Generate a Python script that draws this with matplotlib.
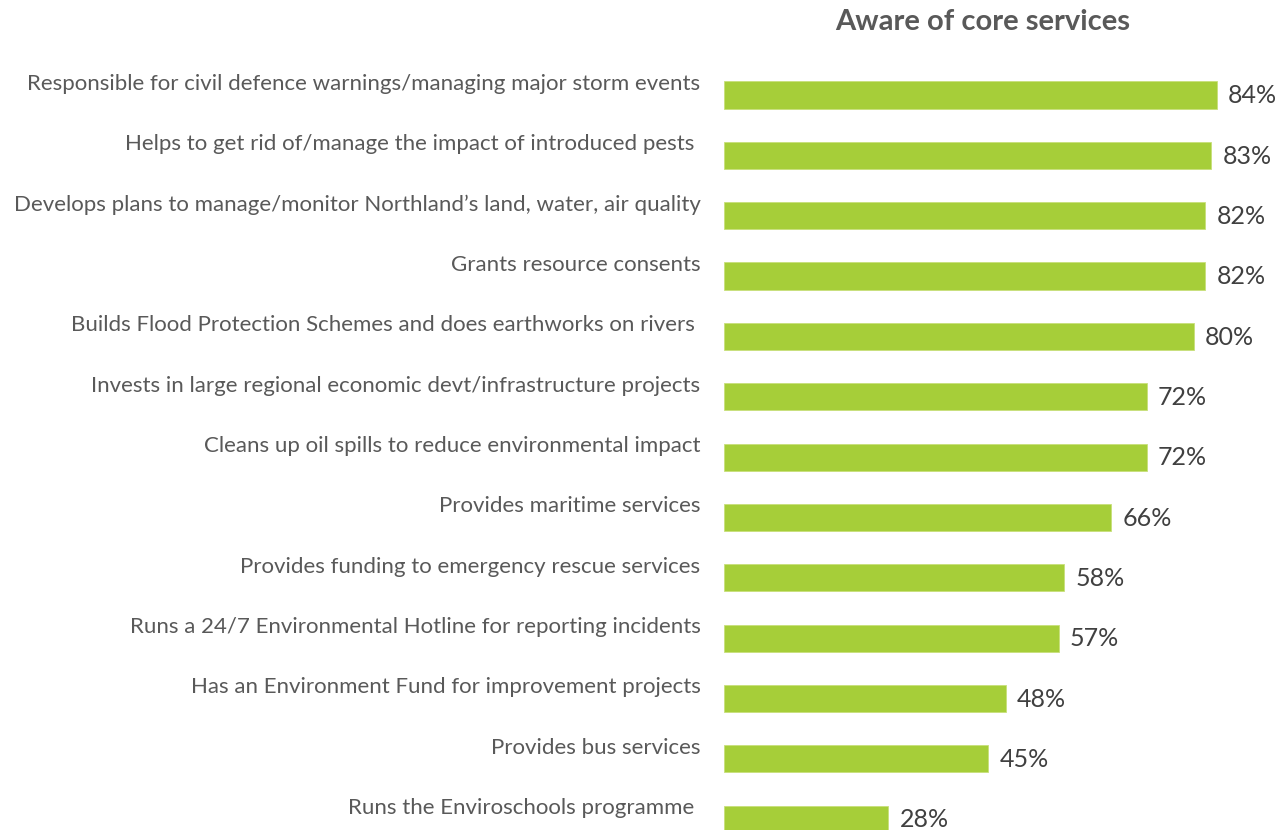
import matplotlib.pyplot as plt
import matplotlib.transforms as mtransforms
import numpy as np

# --- data ---
services = [
    "Responsible for civil defence warnings/managing major storm events",
    "Helps to get rid of/manage the impact of introduced pests ",
    "Develops plans to manage/monitor Northland\u2019s land, water, air quality",
    "Grants resource consents",
    "Builds Flood Protection Schemes and does earthworks on rivers ",
    "Invests in large regional economic devt/infrastructure projects",
    "Cleans up oil spills to reduce environmental impact",
    "Provides maritime services",
    "Provides funding to emergency rescue services",
    "Runs a 24/7 Environmental Hotline for reporting incidents",
    "Has an Environment Fund for improvement projects",
    "Provides bus services",
    "Runs the Enviroschools programme ",
]
aware_pct = [84, 83, 82, 82, 80, 72, 72, 66, 58, 57, 48, 45, 28]

title = "Aware of core services"
bar_color = "#A6CE39"
label_color = "#595959"
value_color = "#404040"

plt.rcParams['font.family'] = ['Lato', 'DejaVu Sans']

W, H = 1281, 830
fig = plt.figure(figsize=(W / 100, H / 100), dpi=100)
ax = fig.add_axes([724 / W, 0, 1 - 724 / W, 1])

y = np.arange(len(services))
ax.barh(y, aware_pct, height=0.45, color=bar_color, edgecolor="#C8E07A", linewidth=0.6)

ax.set_xlim(0, (W - 724) / 5.87)
ax.set_ylim(12.18, -1.575)

# category labels sit a little above the bars, like the original
ax.set_yticks(y)
ax.set_yticklabels(services, fontsize=16, color=label_color)
ax.tick_params(axis='y', length=0, pad=17)
shift = mtransforms.ScaledTranslation(0, 13 / 100, fig.dpi_scale_trans)
for lbl in ax.get_yticklabels():
    lbl.set_transform(lbl.get_transform() + shift)
ax.set_xticks([])

for i, v in zip(y, aware_pct):
    ax.annotate(f"{v}%", xy=(v, i), xytext=(8, -0.5), textcoords="offset points",
                ha="left", va="center", fontsize=18, color=value_color)

for s in ax.spines.values():
    s.set_visible(False)

fig.text(983 / W, 1 - 22 / H, title, ha="center", va="center",
         fontsize=21, fontweight="bold", color=label_color)

fig.savefig("out.png", dpi=100)
